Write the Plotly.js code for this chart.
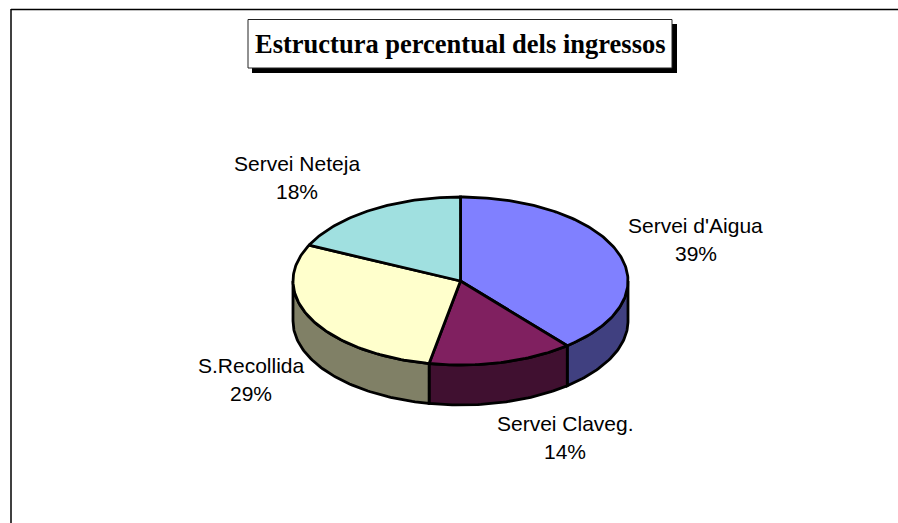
<!DOCTYPE html>
<html>
<head>
<meta charset="utf-8">
<script src="https://cdn.plot.ly/plotly-3.0.1.min.js"></script>
<style>html,body{margin:0;padding:0;background:#fff}#chart{width:898px;height:523px}</style>
</head>
<body>
<div id="chart"></div>
<script>
const titleText = "Estructura percentual dels ingressos";
const categories = ["Servei d'Aigua", "Servei Claveg.", "S.Recollida", "Servei Neteja"];
const values = [39, 14, 29, 18];
const topColors = ["#8080ff", "#802060", "#ffffcc", "#a0e0e0"];
const sideColors = ["#404080", "#401030", "#808066", "#507070"];
const labelAnchors = [[695.5, 225], [565, 423], [251, 365], [297, 163]];

const cx = 460.5, cy = 281, rx = 167.5, ry = 84, depth = 40;
const total = values.reduce((a, b) => a + b, 0);
const px = t => cx + rx * Math.sin(t * Math.PI / 180);
const py = (t, d) => cy - ry * Math.cos(t * Math.PI / 180) + d;
function arc(a, b, d) {
  const out = [], n = Math.max(2, Math.ceil(Math.abs(b - a)));
  for (let i = 0; i <= n; i++) { const t = a + (b - a) * i / n; out.push([px(t), py(t, d)]); }
  return out;
}
const traces = [];
const annotations = [];
function poly(pts, fill, name) {
  traces.push({type: "scatter", mode: "lines", x: pts.map(p => p[0]), y: pts.map(p => p[1]),
    fill: "toself", fillcolor: fill, line: {color: "#000", width: 2.8}, name: name, hoverinfo: "name"});
}
let start = 0;
const spans = values.map(v => { const s = [start, start + v / total * 360]; start = s[1]; return s; });
// side walls: only the front half of the disc is visible
spans.forEach((s, i) => {
  const a = Math.max(s[0], 90), b = Math.min(s[1], 270);
  if (b > a) poly(arc(a, b, 0).concat(arc(b, a, depth)).concat([[px(a), py(a, 0)]]), sideColors[i], categories[i]);
});
// top faces
spans.forEach((s, i) => {
  poly([[cx, cy]].concat(arc(s[0], s[1], 0)).concat([[cx, cy]]), topColors[i], categories[i]);
});
categories.forEach((c, i) => {
  const pct = Math.round(values[i] / total * 100) + "%";
  [c, pct].forEach((txt, k) => annotations.push({x: labelAnchors[i][0], y: labelAnchors[i][1] + k * 28,
    xref: "x", yref: "y", text: txt, showarrow: false, xanchor: "center", yanchor: "middle",
    font: {family: "Liberation Sans, Arial, sans-serif", size: 21, color: "#000"}}));
});
annotations.push({x: 460, y: 43.5, xref: "x", yref: "y", text: "<b>" + titleText + "</b>", showarrow: false,
  xanchor: "center", yanchor: "middle", font: {family: "Liberation Serif, Times New Roman, serif", size: 26.5, color: "#000"}});
const shapes = [
  {type: "line", xref: "x", yref: "y", x0: 11, x1: 898, y0: 9.5, y1: 9.5, line: {color: "#000", width: 1.5}},
  {type: "line", xref: "x", yref: "y", x0: 11, x1: 11, y0: 9, y1: 523, line: {color: "#000", width: 1.5}},
  {type: "rect", xref: "x", yref: "y", x0: 252, x1: 677, y0: 24, y1: 73, fillcolor: "#000", line: {width: 0}},
  {type: "rect", xref: "x", yref: "y", x0: 248, x1: 672, y0: 19.5, y1: 68, fillcolor: "#fff", line: {color: "#222", width: 1}}
];
Plotly.newPlot("chart", traces, {
  width: 898, height: 523, margin: {l: 0, r: 0, t: 0, b: 0},
  paper_bgcolor: "#fff", plot_bgcolor: "#fff", showlegend: false,
  xaxis: {range: [0, 898], visible: false, fixedrange: true},
  yaxis: {range: [523, 0], visible: false, fixedrange: true},
  shapes: shapes, annotations: annotations
}, {displayModeBar: false, staticPlot: true});
</script>
</body>
</html>
